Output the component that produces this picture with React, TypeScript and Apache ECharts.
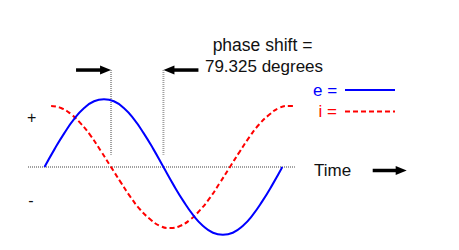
import React, { useEffect, useRef } from "react";
import * as echarts from "echarts";

// e (voltage): angle in degrees, value in peak units
const eAngles = [0, 15, 30, 45, 60, 75, 90, 105, 120, 135, 150, 165, 180, 195, 210, 225, 240, 255, 270, 285, 300, 315, 330, 345, 360];
const eValues = [0, 0.26, 0.5, 0.71, 0.87, 0.97, 1, 0.97, 0.87, 0.71, 0.5, 0.26, 0, -0.26, -0.5, -0.71, -0.87, -0.97, -1, -0.97, -0.87, -0.71, -0.5, -0.26, 0];

// i (current), leading e
const iAngles = [10, 25, 40, 55, 70, 85, 100, 115, 130, 145, 160, 175, 190, 205, 220, 235, 250, 265, 280, 295, 310, 325, 340, 355, 370, 376];
const iValues = [0.9, 0.87, 0.78, 0.64, 0.46, 0.24, 0.01, -0.22, -0.44, -0.63, -0.77, -0.87, -0.9, -0.87, -0.78, -0.64, -0.46, -0.24, -0.01, 0.22, 0.44, 0.63, 0.77, 0.87, 0.9, 0.9];

// phase-shift markers (zero crossings of i and e)
const markerAngles = [100.7, 180];
const markerTop = 1.43;
const markerBottom = 0.18;

// dotted zero (time) line extent
const zeroLineAngles = [-25, 379];

const phaseLabel = ["phase shift =", "79.325 degrees"];
const legendLabels = ["e =", "i ="];
const signLabels = ["+", "-"];
const timeLabel = "Time";

const BLUE = "#0000ff";
const RED = "#ff0000";
const DOT = "#a0a0a0";
const FONT = "'Liberation Sans', Arial, sans-serif";

export default function App() {
  const ref = useRef<HTMLDivElement>(null);

  useEffect(() => {
    if (!ref.current) return;
    const chart = echarts.init(ref.current, null, { renderer: "svg" });

    const eData = eAngles.map((a, k) => [a, eValues[k]]);
    const iData = iAngles.map((a, k) => [a, iValues[k]]);

    const dotted = { color: DOT, width: 2, type: [1, 1] as any };

    const markerSeries = markerAngles.map((a) => ({
      type: "line" as const,
      data: [
        [a, markerTop],
        [a, markerBottom],
      ],
      symbol: "none",
      silent: true,
      lineStyle: dotted,
      z: 1,
    }));

    chart.setOption({
      animation: false,
      grid: { left: 28, width: 266.9, top: 65.3, height: 183.06 },
      xAxis: {
        type: "value",
        min: zeroLineAngles[0],
        max: zeroLineAngles[1],
        axisLine: { show: false },
        axisTick: { show: false },
        axisLabel: { show: false },
        splitLine: { show: false },
      },
      yAxis: {
        type: "value",
        min: -1.2,
        max: 1.5,
        show: false,
        splitLine: { show: false },
      },
      series: [
        {
          type: "line",
          data: zeroLineAngles.map((a) => [a, 0]),
          symbol: "none",
          silent: true,
          lineStyle: dotted,
          z: 1,
        },
        ...markerSeries,
        {
          name: "i",
          type: "line",
          data: iData,
          smooth: true,
          symbol: "none",
          lineStyle: { color: RED, width: 2, type: [5, 3] },
          z: 2,
        },
        {
          name: "e",
          type: "line",
          data: eData,
          smooth: true,
          symbol: "none",
          lineStyle: { color: BLUE, width: 2 },
          z: 3,
        },
      ],
    });

    const p0 = chart.convertToPixel({ gridIndex: 0 }, [markerAngles[0], markerTop]) as number[];
    const p1 = chart.convertToPixel({ gridIndex: 0 }, [markerAngles[1], markerTop]) as number[];

    const arrowRight = (tipX: number, y: number, len: number) => [
      { type: "line", shape: { x1: tipX - len, y1: y, x2: tipX - 9, y2: y }, style: { stroke: "#000", lineWidth: 3.5 } },
      { type: "polygon", shape: { points: [[tipX - 11, y - 4.5], [tipX, y], [tipX - 11, y + 4.5]] }, style: { fill: "#000" } },
    ];
    const arrowLeft = (tipX: number, y: number, len: number) => [
      { type: "line", shape: { x1: tipX + 9, y1: y, x2: tipX + len, y2: y }, style: { stroke: "#000", lineWidth: 3.5 } },
      { type: "polygon", shape: { points: [[tipX + 11, y - 4.5], [tipX, y], [tipX + 11, y + 4.5]] }, style: { fill: "#000" } },
    ];

    const txt = (text: string, x: number, y: number, color: string, align: string = "left", size = 17) => ({
      type: "text",
      x,
      y,
      style: { text, fill: color, font: `${size}px ${FONT}`, align, verticalAlign: "middle" },
    });

    chart.setOption({
      graphic: [
        ...arrowRight(p0[0], p0[1], 35),
        ...arrowLeft(p1[0], p1[1], 35),
        ...arrowRight(406.7, 170.5, 34),
        txt(phaseLabel[0], 262.5, 45, "#111", "center", 17.5),
        txt(phaseLabel[1], 264, 66, "#111", "center", 17),
        txt(legendLabels[0], 313, 90, BLUE),
        { type: "line", shape: { x1: 345, y1: 90, x2: 395, y2: 90 }, style: { stroke: BLUE, lineWidth: 2 } },
        txt(legendLabels[1], 318.5, 111.5, RED),
        { type: "line", shape: { x1: 345, y1: 111.5, x2: 395, y2: 111.5 }, style: { stroke: RED, lineWidth: 2, lineDash: [5, 3] } },
        txt(signLabels[0], 31.7, 117, "#111", "center", 16),
        txt(signLabels[1], 31, 200.5, "#111", "center", 16),
        txt(timeLabel, 314, 170, "#111"),
      ],
    });

    return () => chart.dispose();
  }, []);

  return (
    <div
      ref={ref}
      style={{ position: "absolute", left: 0, top: 0, width: 459, height: 250, background: "#fff" }}
    />
  );
}
